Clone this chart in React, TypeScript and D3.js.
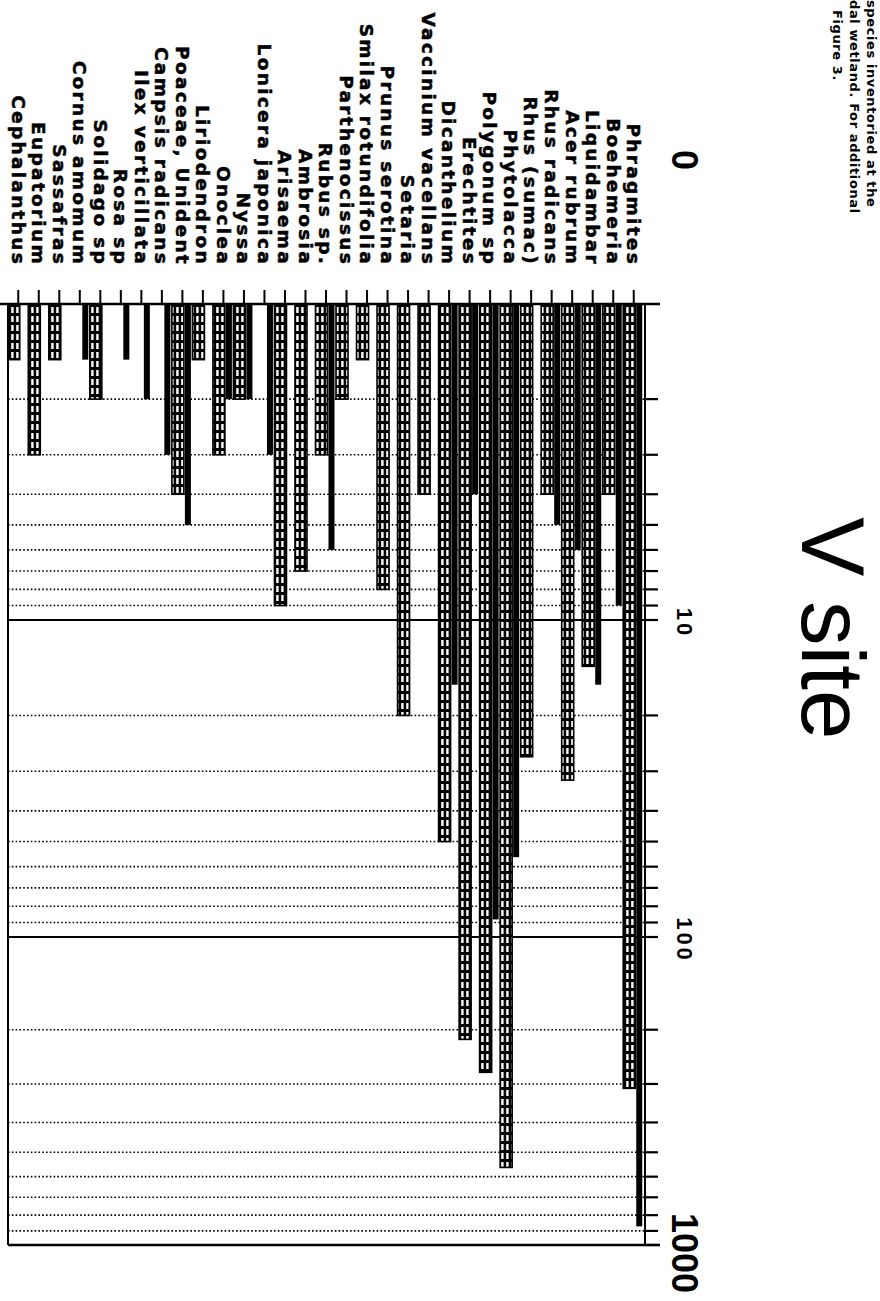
import React from "react";
import * as d3 from "d3";

const categories = [
  "Cephalanthus", "Eupatorium", "Sassafras", "Cornus amomum", "Solidago sp",
  "Rosa sp", "Ilex verticillata", "Campsis radicans", "Poaceae, Unident", "Liriodendron",
  "Onoclea", "Nyssa", "Lonicera japonica", "Arisaema", "Ambrosia",
  "Rubus sp.", "Parthenocissus", "Smilax rotundifolia", "Prunus serotina", "Setaria",
  "Vaccinium vacellans", "Dicanthelium", "Erechtites", "Polygonum sp", "Phytolacca",
  "Rhus (sumac)", "Rhus radicans", "Acer rubrum", "Liquidambar", "Boehemeria", "Phragmites",
];

// hatched series
const hatchedValues = [
  1.5, 3, 1.5, 0, 2,
  0, 0, 0, 4, 1.5,
  3, 2, 0, 9, 7,
  3, 2, 1.5, 8, 20,
  4, 50, 215, 275, 560,
  27, 4, 32, 14, 4, 310,
];

// solid black series
const solidValues = [
  0, 0, 0, 1.5, 0,
  1.5, 2, 3, 5, 0,
  2, 2, 3, 0, 0,
  6, 0, 0, 0, 0,
  0, 16, 4, 88, 56,
  0, 5, 6, 16, 9, 870,
];

const axisLabels = [
  { text: "0", value: 1, big: true },
  { text: "10", value: 10, big: false },
  { text: "100", value: 100, big: false },
  { text: "1000", value: 1000, big: true },
];

const minorTicks = [2, 3, 4, 5, 6, 7, 8, 9, 20, 30, 40, 50, 60, 70, 80, 90, 200, 300, 400, 500, 600, 700, 800, 900];

const captionLines = ["species inventoried at the", "dal wetland. For additional", "Figure 3."];

export default function App() {
  const left = 8;
  const right = 645;
  const y = d3.scaleLog().domain([1, 10, 100, 1000]).range([304, 620, 937, 1245]);
  const x = d3.scaleBand().domain(categories).range([left, 644]);
  const cx = (c: string) => (x(c) as number) + x.bandwidth() / 2;
  const base = y(1);

  return (
    <svg width={880} height={1301} style={{ position: "absolute", left: 0, top: 0, background: "#fff" }}>
      <defs>
        <pattern id="hatch" width={5} height={9} patternUnits="userSpaceOnUse">
          <rect width={5} height={9} fill="#000" />
          <rect x={1.2} y={1} width={2.4} height={6} fill="#fff" />
        </pattern>
      </defs>

      {/* caption */}
      {captionLines.map((t, i) => (
        <text key={t} transform={`translate(${867 - i * 17}, ${i === 2 ? 10 : 0}) rotate(90)`}
          fontFamily="DejaVu Sans" fontWeight="bold" fontSize={13} letterSpacing={0.6}>{t}</text>
      ))}

      {/* title */}
      <text transform="translate(802, 517) rotate(90)" fontFamily="Liberation Sans, Arial" fontSize={89}>V site</text>

      {/* category labels */}
      {categories.map((c) => (
        <text key={c} transform={`translate(${cx(c)}, 266) rotate(90)`} dy="0.36em" textAnchor="end"
          fontFamily="DejaVu Sans" fontWeight="bold" fontSize={18.5} letterSpacing={2.3}
          stroke="#000" strokeWidth={0.5}>{c}</text>
      ))}

      {/* gridlines */}
      {minorTicks.map((v) => (
        <line key={v} x1={left} x2={right} y1={y(v)} y2={y(v)} stroke="#000" strokeWidth={1.6} strokeDasharray="1.6 2.2" />
      ))}
      {[10, 100].map((v) => (
        <line key={v} x1={left} x2={right} y1={y(v)} y2={y(v)} stroke="#000" strokeWidth={2} />
      ))}

      {/* bars */}
      {categories.map((c, i) => {
        const t = cx(c);
        const hv = hatchedValues[i];
        const sv = solidValues[i];
        return (
          <g key={c}>
            {hv > 0 && (
              <rect x={t - 10.5} y={base} width={12} height={y(hv) - base} fill="url(#hatch)" stroke="#000" strokeWidth={1.6} />
            )}
            {sv > 0 && (
              <rect x={t + 2.5} y={base} width={6} height={y(sv) - base} fill="#000" />
            )}
          </g>
        );
      })}

      {/* frame & axes */}
      <line x1={0} x2={660} y1={base} y2={base} stroke="#000" strokeWidth={2.6} />
      <line x1={left} x2={left} y1={base} y2={y(1000)} stroke="#000" strokeWidth={2} />
      <line x1={left} x2={660} y1={y(1000)} y2={y(1000)} stroke="#000" strokeWidth={2.6} />
      <line x1={right} x2={right} y1={base} y2={y(1000)} stroke="#000" strokeWidth={2} />
      {[...minorTicks, 10, 100, 1000].map((v) => (
        <line key={"t" + v} x1={right} x2={658} y1={y(v)} y2={y(v)} stroke="#000" strokeWidth={2.2} />
      ))}
      {categories.map((c) => (
        <line key={"ct" + c} x1={cx(c)} x2={cx(c)} y1={290} y2={base} stroke="#000" strokeWidth={2} />
      ))}

      {/* value labels */}
      {axisLabels.map((a) => (
        <text key={a.text}
          transform={`translate(${a.big ? 672 : 677}, ${a.value === 1 ? 160 : y(a.value) + (a.value === 1000 ? 8 : 3)}) rotate(90)`}
          textAnchor="middle" fontFamily="Liberation Sans, Arial" fontWeight="bold"
          fontSize={a.big ? 36 : 22} letterSpacing={a.big ? 0 : 3}>{a.text}</text>
      ))}
    </svg>
  );
}
